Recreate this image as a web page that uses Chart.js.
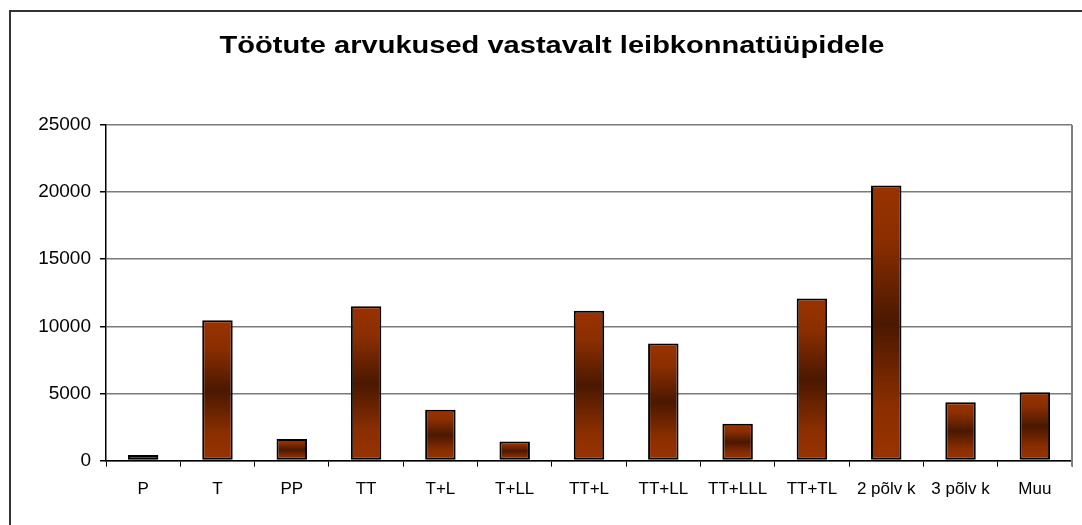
<!DOCTYPE html>
<html>
<head>
<meta charset="utf-8">
<script src="https://cdn.jsdelivr.net/npm/chart.js@4/dist/chart.umd.min.js"></script>
<style>
    html, body { margin: 0; padding: 0; background: #fff; overflow: hidden; }
    #wrap { position: relative; width: 1082px; height: 525px; }
    #frame { position: absolute; left: 9px; top: 10px; width: 1200px; height: 600px; border: 2px solid #333; box-sizing: border-box; }
    canvas { position: absolute; left: 0; top: 0; }
</style>
</head>
<body>
<div id="wrap">
    <div id="frame"></div>
    <canvas id="chart" width="1082" height="525"></canvas>
</div>
<script>
// Leibkonnatüübid ja töötute arvud
const categories = ['P', 'T', 'PP', 'TT', 'T+L', 'T+LL', 'TT+L', 'TT+LL', 'TT+LLL', 'TT+TL', '2 põlv k', '3 põlv k', 'Muu'];
const unemployed = [420, 10450, 1600, 11500, 3780, 1420, 11170, 8730, 2740, 12070, 20500, 4350, 5100];
const yTicks = [0, 5000, 10000, 15000, 20000, 25000];

const chartTitle = 'Töötute arvukused vastavalt leibkonnatüüpidele';
const fontFamily = 'Liberation Sans, Arial, sans-serif';

// Vertikaalne gradient igale tulbale: oranž - tumepruun - oranž
function barGradient(context) {
    const chart = context.chart;
    const { ctx, scales } = chart;
    if (!scales.y || context.parsed === undefined) return '#993300';
    const top = scales.y.getPixelForValue(context.parsed.y);
    const bottom = scales.y.getPixelForValue(0);
    if (!isFinite(top) || !isFinite(bottom) || top === bottom) return '#993300';
    const g = ctx.createLinearGradient(0, top, 0, bottom);
    g.addColorStop(0, '#993300');
    g.addColorStop(0.2, '#8a2e00');
    g.addColorStop(0.5, '#4a1800');
    g.addColorStop(0.8, '#8a2e00');
    g.addColorStop(1, '#993300');
    return g;
}

// Pealkiri (veidi laiemaks venitatud nagu originaalis) ja joonise ala parem serv
const decorations = {
    id: 'decorations',
    afterDraw(chart) {
        const { ctx, chartArea } = chart;
        ctx.save();
        ctx.strokeStyle = '#808080';
        ctx.lineWidth = 2;
        ctx.beginPath();
        ctx.moveTo(chartArea.right, chartArea.top);
        ctx.lineTo(chartArea.right, chartArea.bottom + 6);
        ctx.stroke();

        ctx.font = 'bold 23px ' + fontFamily;
        ctx.fillStyle = '#000';
        ctx.textAlign = 'center';
        ctx.textBaseline = 'alphabetic';
        const w = ctx.measureText(chartTitle).width;
        const sx = 665 / w;
        ctx.translate(552, 53);
        ctx.scale(sx, 1);
        ctx.fillText(chartTitle, 0, 0);
        ctx.restore();
    }
};

new Chart(document.getElementById('chart').getContext('2d'), {
    type: 'bar',
    data: {
        labels: categories,
        datasets: [{
            data: unemployed,
            backgroundColor: barGradient,
            borderColor: '#000',
            borderWidth: 2,
            borderSkipped: false,
            categoryPercentage: 1,
            barPercentage: 0.41
        }]
    },
    options: {
        responsive: false,
        animation: false,
        layout: { padding: { left: 0, right: 10, top: 125, bottom: 12 } },
        plugins: {
            legend: { display: false },
            tooltip: { enabled: false },
            title: { display: false }
        },
        scales: {
            x: {
                grid: { display: true, drawOnChartArea: false, offset: true, tickLength: 6, color: '#000' },
                border: { color: '#000', width: 1.5 },
                ticks: {
                    color: '#000',
                    padding: 13,
                    maxRotation: 0,
                    autoSkip: false,
                    font: { family: fontFamily, size: 17 }
                }
            },
            y: {
                min: 0,
                max: 25000,
                afterBuildTicks: scale => { scale.ticks = yTicks.map(v => ({ value: v })); },
                afterFit: scale => { scale.width = 106; },
                grid: { color: '#7a7a7a', lineWidth: 1.5, tickLength: 6, tickColor: '#000' },
                border: { color: '#000', width: 1.5 },
                ticks: {
                    color: '#000',
                    padding: 9,
                    callback: v => String(v),
                    font: { family: fontFamily, size: 19 }
                }
            }
        }
    },
    plugins: [decorations]
});
</script>
</body>
</html>
